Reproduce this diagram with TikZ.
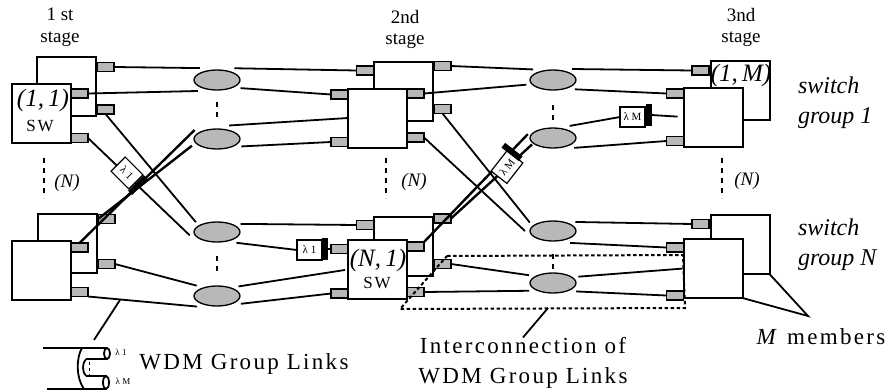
\documentclass[tikz,border=0pt]{standalone}
\usepackage{fontspec}
\usepackage{xcolor}
\usepackage{tikz}
\usetikzlibrary{calc,shapes.geometric}
\setmainfont{Liberation Serif}
\newfontfamily\widefont[LetterSpace=10]{Liberation Serif}
\newcommand{\fsz}[1]{\fontsize{#1}{#1}\selectfont}
\definecolor{dither}{HTML}{B8B8B8}

\begin{document}
\begin{tikzpicture}[x=1pt,y=-1pt,
  every node/.style={inner sep=0pt,outer sep=0pt},
  sw/.style={draw,line width=2pt,fill=white,minimum width=59pt,minimum height=59pt},
  port/.style={draw,line width=1.8pt,fill=dither,minimum width=17pt,minimum height=9pt},
  cpl/.style={ellipse,draw,line width=1.3pt,fill=dither,minimum width=46pt,minimum height=20pt,outer sep=5pt},
  lnk/.style={line width=1.8pt},
  wdm/.style={line width=2.4pt},
  dots/.style={line width=2pt,dash pattern=on 5pt off 5pt},
  frame/.style={line width=2pt,dash pattern=on 3.5pt off 2.5pt},
  lam/.style={draw,line width=1.2pt,fill=white,minimum width=25pt,minimum height=20pt,font=\fsz{11}},
  bar/.style={fill=black,minimum width=6pt,minimum height=22pt},
  stg/.style={font=\fsz{19},align=center},
  idx/.style={font=\fsz{25}\itshape},
  lbl/.style={font=\fsz{17}\widefont},
  big/.style={font=\fsz{23}\widefont,align=center},
  grp/.style={font=\fsz{24}\itshape,align=left}]
  \useasboundingbox (0,0) rectangle (887,391);
  % stage headings
  \node[stg] (h1) at (60,27) {1 st\\[3pt]stage};
  \node[stg] (h2) at (405,29) {2nd\\[2pt]stage};
  \node[stg] (h3) at (741,27) {3nd\\[2pt]stage};
  % back boxes, then their ports, then front boxes and ports
  \foreach \n/\x/\y in {a1/66.5/86.5,b1/67.5/243,c1/403.5/91.5,d1/403.5/246,f1/740/90,g1/740/244.5}
    \node[sw] (\n) at (\x,\y) {};
  \foreach \n/\x/\y in {a1r/105.5/67,a1s/105.5/109.5,b1r/106.5/219,b1s/106.5/264,c1l/365/70.5,c1r/442.5/66,c1s/442.5/109,d1l/365/225,d1r/442.5/218.5,d1s/442.5/264,f1l/700.5/70.5,g1l/700.5/224}
    \node[port] (\n) at (\x,\y) {};
  \foreach \n/\x/\y in {a2/41/113,b2/41.5/270,c2/377.5/118,d2/377.5/269.5,f2/713/117,g2/713/268.5}
    \node[sw] (\n) at (\x,\y) {};
  \foreach \n/\x/\y in {a2r/79.5/93.5,a2s/79.5/138,b2r/79.5/247.5,b2s/79.5/292,c2l/339.5/94.5,c2m/339.5/142,c2r/415.5/93.5,c2s/415.5/137.5,d2l/339.5/249,d2m/339.5/293.5,d2r/415.5/246.5,d2s/415.5/292,f2l/675/93.5,f2m/675/141,g2l/675/247.5,g2m/675/295.5}
    \node[port] (\n) at (\x,\y) {};
  % couplers
  \foreach \n/\x/\y in {o1/217/80,o2/217/139,o3/217/232,o4/217/296,q1/553/80,q2/553/138,q3/553/231,q4/553/283}
    \node[cpl] (\n) at (\x,\y) {};
  % first to second stage
  \draw[lnk] (a1r.east)--(o1.145);
  \draw[lnk] (a2r.east)--(o1.210);
  \draw[lnk] (o1.34)--(c1l.west);
  \draw[lnk] (o1.-19)--(c2l.west);
  \draw[lnk] (o2.48)--(c2.west);
  \draw[lnk] (o2.-17)--(c2m.west);
  \draw[lnk] (a1s.south)--(o3.155);
  \draw[lnk] (a2s.east)--(o3.187);
  \draw[wdm] (o2.158)--(b2r.north);
  \draw[wdm] (o2.195)--(b1r.west);
  \draw[lnk] (b1s.east)--(o4.153);
  \draw[lnk] (b2s.south east)--(o4.208);
  \draw[lnk] (o3.19)--(d1l.west);
  \draw[lnk,shorten >=3pt] (o4.24)--(d2.west);
  \draw[lnk] (o4.-18)--(d2m.west);
  % second to third stage
  \draw[lnk] (c1r.east)--(q1.152);
  \draw[lnk] (c2r.east)--(q1.190);
  \draw[lnk] (c1s.south)--(q3.160);
  \draw[lnk] (c2s.east)--(q3.180);
  \draw[wdm,shorten <=-4pt] (q2.178)--(d2r.north east);
  \draw[wdm,shorten <=-3pt] (q2.200)--(d1r.east);
  \draw[lnk] (d1s.east)--(q4.162);
  \draw[lnk] (d2s.east)--(q4.198);
  \draw[lnk] (q1.30)--(f1l.west);
  \draw[lnk] (q1.-23)--(f2l.west);
  \draw[lnk] (q2.-25)--(f2m.west);
  \draw[lnk] (q3.22)--(g1l.west);
  \draw[lnk] (q3.-35)--(g2l.west);
  \draw[lnk,shorten >=1pt] (q4.14)--(g2.west);
  \draw[lnk] (q4.-20)--(g2m.west);
  % wavelength tags
  \node[lam,rotate=-45] (tagA) at (127,173) {λ 1};
  \node[bar,rotate=-45] (barA) at (138,185) {};
  \node[lam,rotate=52,minimum width=26pt] (tagB) at (507,167) {λ M};
  \node[bar,rotate=52] (barB) at (512,152) {};
  \node[lam] (tagC) at (309.5,250) {λ 1};
  \node[bar] (barC) at (325,249) {};
  \node[lam] (tagD) at (632.5,117) {λ M};
  \node[bar] (barD) at (648.5,115) {};
  \draw[lnk] (o3.-29)--(tagC.west);
  \draw[lnk] (barC.east)--(d2l.west);
  \draw[lnk] (q2.36)--(tagD.west);
  \draw[lnk,shorten >=6pt] (barD.east)--(f2.west);
  % switch names
  \node[idx] (t11) at (43,100) {(1,\,1)};
  \node[lbl] (s11) at (40,126) {SW};
  \node[idx] (tn1) at (378,260) {(N,\,1)};
  \node[lbl] (sn1) at (377,283) {SW};
  \node[idx] (t1m) at (741,75) {(1,\,M)};
  % (N) columns
  \foreach \x in {44,386,722}
    \draw[dots] (\x,158)--(\x,198);
  \foreach \x/\y in {217/102,217/256,553/105,553/254}
    \draw[dots] (\x,\y)--(\x,\y+17);
  \node[font=\fsz{19}\itshape] (n1) at (67,183) {(N)};
  \node[font=\fsz{19}\itshape] (n2) at (414,182) {(N)};
  \node[font=\fsz{19}\itshape] (n3) at (747,181) {(N)};
  % right hand labels
  \node[grp,anchor=west] (g1txt) at (798,103) {switch\\[6pt]group 1};
  \node[grp,anchor=west] (g2txt) at (798,245) {switch\\[6pt]group N};
  \node[big] (mem) at (821,337) {\textit{M} members};
  \coordinate (tip) at (808,316);
  \draw[lnk] (g1.south east)--(tip)--(g2.south east);
  % interconnection frame
  \coordinate (x1) at (447,256);
  \coordinate (x2) at (683,255);
  \coordinate (x3) at (685,308);
  \coordinate (x4) at (400,309);
  \draw[frame] (x1)--(x2)--(x3)--(x4)--cycle;
  \node[big] (ict) at (523,363) {Interconnection of\\[7pt]WDM Group Links};
  \coordinate (x5) at (548,308);
  \draw[lnk] (x5)--(ict.north);
  % fibre bundle
  \node[big] (wdmtxt) at (244,364) {WDM Group Links};
  \coordinate (x6) at (120,300);
  \coordinate (x7) at (94,340);
  \draw[lnk] (x6)--(x7);
  \draw[lnk] (43,348)--(107,348);
  \draw[lnk] (47,389)--(106,389);
  \draw[lnk] (82,348) .. controls (76,358) and (76,378) .. (84,389);
  \draw[lnk] (86,359)--(107,359);
  \draw[lnk] (86,376)--(106,376);
  \draw[lnk] (86,359) .. controls (82,363) and (82,372) .. (86,376);
  \draw[lnk,fill=white] (107,353.5) ellipse (3 and 5.5);
  \draw[lnk,fill=white] (106,382.5) ellipse (3 and 6.5);
  \draw[line width=1pt,dash pattern=on 3pt off 3pt] (89,362)--(89,375);
  \node[font=\fsz{9}] (l1) at (121,352) {λ 1};
  \node[font=\fsz{9}] (lm) at (123,381) {λ M};
\end{tikzpicture}
\end{document}
